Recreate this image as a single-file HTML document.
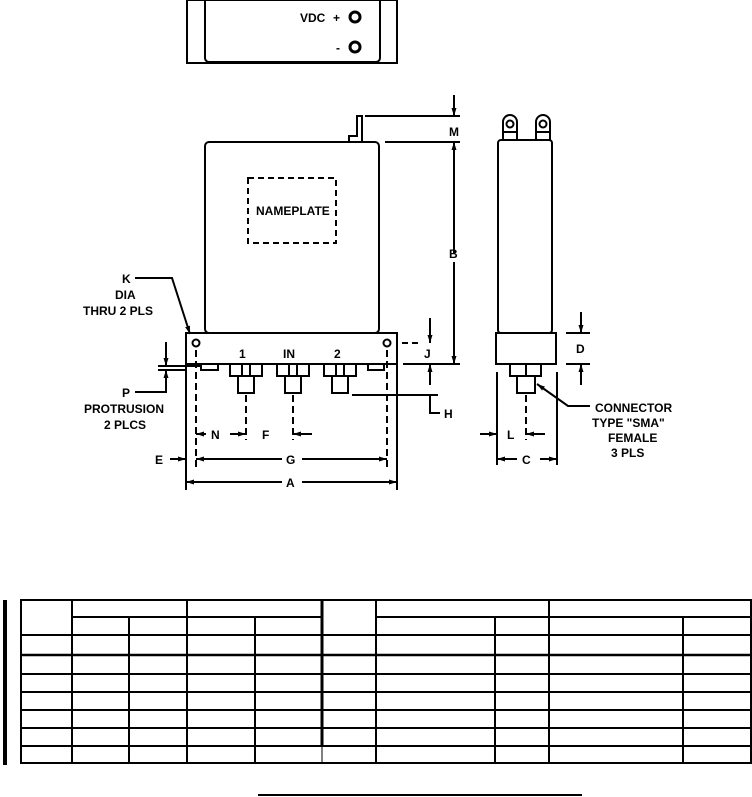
<!DOCTYPE html>
<html><head><meta charset="utf-8"><style>
html,body{margin:0;padding:0;background:#fff}
svg{display:block}
text{font-family:"Liberation Sans",sans-serif;font-weight:bold;font-size:12px;fill:#000}
</style></head><body>
<svg width="752" height="797" viewBox="0 0 752 797" xmlns="http://www.w3.org/2000/svg">
<defs>
<marker id="ar" markerWidth="8" markerHeight="6" refX="8" refY="3" orient="auto" markerUnits="userSpaceOnUse"><path d="M0,0.5 L8,3 L0,5.5z" fill="#000"/></marker>
</defs>
<g fill="none" stroke="#000" stroke-width="2">
<!-- top view -->
<rect x="187" y="0" width="210" height="63"/>
<rect x="205" y="-5" width="175" height="67" rx="4"/>
<circle cx="355" cy="17" r="5" stroke-width="3"/><circle cx="355" cy="47" r="5" stroke-width="3"/>
<!-- front body -->
<rect x="205" y="142" width="174" height="191" rx="4"/>
<rect x="186" y="333" width="211" height="31"/>
<rect x="248" y="178" width="88" height="65" stroke-dasharray="6,4"/>
<circle cx="196" cy="343" r="3.5"/><circle cx="387" cy="343" r="3.5"/>
<path d="M349,142 v-6 h8 v-20 h5 v26"/>
<path d="M201,364 v6 h17 v-6 M368,364 v6 h16 v-6"/>
<!-- connectors -->
<path d="M230,364 v12 h32 v-12 M238,376 v17 h16 v-17 M242,364 v12 M250,364 v12"/>
<path d="M277,364 v12 h32 v-12 M285,376 v17 h16 v-17 M289,364 v12 M297,364 v12"/>
<path d="M324,364 v12 h32 v-12 M332,376 v17 h16 v-17 M336,364 v12 M344,364 v12"/>
<!-- dims -->
<path d="M365,116 H460 M385,142 H460 M403,364 H460 M352,395 H438"/>
<path d="M454,95 V116" marker-end="url(#ar)"/>
<path d="M454,253 V142" marker-end="url(#ar)"/><path d="M454,262 V364" marker-end="url(#ar)"/>
<path d="M402,343 H420" stroke-dasharray="6,4"/>
<path d="M430,318 V343" marker-end="url(#ar)"/>
<path d="M430,385 V364" marker-end="url(#ar)"/>
<path d="M430,395 V413 H440"/>
<path d="M186,364 V490 M397,364 V490"/>
<path d="M196,350 V468 M246,395 V440 M293,395 V440 M387,350 V468" stroke-dasharray="7,4"/>
<path d="M170,459 H186" marker-end="url(#ar)"/>
<path d="M206,459 H196" marker-end="url(#ar)"/><path d="M196,459 H282 M302,459 H387" /><path d="M377,459 H387" marker-end="url(#ar)"/>
<path d="M236,482 H186" marker-end="url(#ar)"/><path d="M186,482 H282 M302,482 H397"/><path d="M387,482 H397" marker-end="url(#ar)"/>
<path d="M206,434 H196" marker-end="url(#ar)"/><path d="M230,434 H246" marker-end="url(#ar)"/>
<path d="M312,434 H293" marker-end="url(#ar)"/>
<!-- K, P leaders -->
<path d="M135,278 H172 L190,334" marker-end="url(#ar)"/>
<path d="M158,366 H200 M158,370 H186"/>
<path d="M166,342 V366" marker-end="url(#ar)"/>
<path d="M135,392 H166 V370" marker-end="url(#ar)"/>
<!-- side view -->
<rect x="498" y="140" width="54" height="193" rx="3"/>
<rect x="496" y="333" width="60" height="31"/>
<path d="M503,140 v-8 h14 v8 M536,140 v-8 h14 v8"/>
<path d="M503,132 v-10 a7,7 0 0 1 14,0 v10 M536,132 v-10 a7,7 0 0 1 14,0 v10"/>
<circle cx="510" cy="124" r="3.5"/><circle cx="543" cy="124" r="3.5"/>
<path d="M510,364 v12 h31 v-12 M526,364 v12 M517,376 v17 h18 v-17"/>
<path d="M526,395 V440" stroke-dasharray="7,4"/>
<path d="M566,333 H590 M566,364 H590"/>
<path d="M581,312 V333" marker-end="url(#ar)"/><path d="M581,385 V364" marker-end="url(#ar)"/>
<path d="M497,372 V465 M557,372 V465"/>
<path d="M480,434 H497" marker-end="url(#ar)"/><path d="M545,434 H526" marker-end="url(#ar)"/>
<path d="M517,459 H497" marker-end="url(#ar)"/><path d="M540,459 H557" marker-end="url(#ar)"/>
<path d="M590,406 H568 L537,384" marker-end="url(#ar)"/>
<!-- table -->
<path d="M5,600 V765" stroke-width="4"/>
<rect x="21" y="600" width="730" height="163"/>
<path d="M72,617 H322 M376,617 H751"/>
<path d="M21,635 H751"/>
<path d="M21,655 H751" stroke-width="2.5"/>
<path d="M21,674 H751 M21,692 H751 M21,710 H751 M21,728 H751 M21,746 H751"/>
<path d="M72,600 V763 M187,600 V763 M376,600 V763 M549,600 V763"/>
<path d="M129,617 V763 M255,617 V763 M495,617 V763 M683,617 V763"/>
<path d="M322,600 V746" stroke-width="3"/><path d="M322,746 V763" stroke-width="1"/>
<path d="M258,795 H582"/>
</g>
<text x="300" y="22">VDC</text><text x="333" y="22">+</text><text x="336" y="52">-</text>
<text x="256" y="215" font-size="11">NAMEPLATE</text>
<text x="239" y="358">1</text><text x="283" y="358">IN</text><text x="334" y="358">2</text>
<text x="449" y="136">M</text><text x="449" y="258">B</text><text x="424" y="358">J</text><text x="444" y="418">H</text>
<text x="211" y="439">N</text><text x="262" y="439">F</text>
<text x="155" y="464">E</text><text x="286" y="464">G</text><text x="286" y="487">A</text>
<text x="122" y="283">K</text><text x="115" y="299">DIA</text><text x="83" y="315">THRU 2 PLS</text>
<text x="122" y="397">P</text><text x="84" y="413">PROTRUSION</text><text x="104" y="429">2 PLCS</text>
<text x="576" y="353">D</text><text x="507" y="439">L</text><text x="522" y="464">C</text>
<text x="595" y="412">CONNECTOR</text><text x="592" y="427">TYPE "SMA"</text><text x="608" y="442">FEMALE</text><text x="611" y="457">3 PLS</text>
</svg>
</body></html>
